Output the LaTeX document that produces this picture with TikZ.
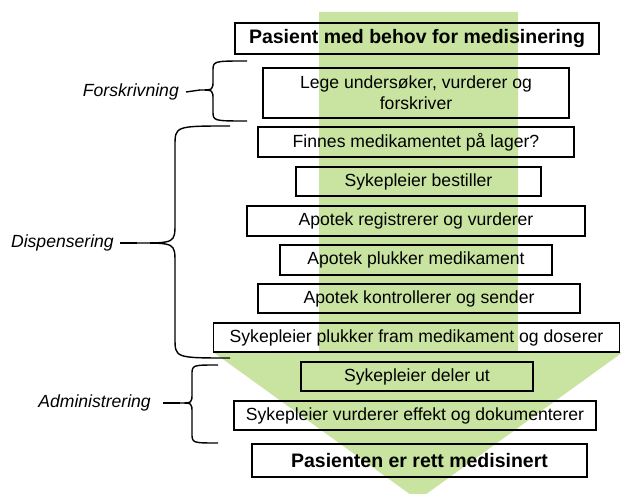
\documentclass[tikz,border=0pt]{standalone}
\usepackage{fontspec}
\setmainfont{Liberation Sans}
\definecolor{arrowgreen}{RGB}{200,228,160}
\begin{document}
\begin{tikzpicture}[x=1pt,y=-1pt,
  stepbox/.style={draw, line width=1.5pt, inner sep=0pt, align=center, font=\fontsize{17.6}{21}\selectfont},
  boldbox/.style={stepbox, font=\fontsize{19.5}{22}\selectfont\bfseries},
  lab/.style={inner sep=0pt, font=\fontsize{17.6}{20}\selectfont\itshape},
  bracel/.style={line width=1.4pt, line join=round}]
\useasboundingbox (0,0) rectangle (621,494);
\clip (0,0) rectangle (621,494);
\fill[arrowgreen] (319,12) -- (518,12) -- (518,352) -- (623,352) -- (418,500) -- (213,352) -- (319,352) -- cycle;

\node[boldbox, minimum width=364pt, minimum height=31pt] (b1) at (417,38.5) {Pasient med behov for medisinering};
\node[stepbox, minimum width=306pt, minimum height=50pt] (b2) at (416,93) {Lege undersøker, vurderer og\\forskriver};
\node[stepbox, minimum width=316pt, minimum height=30pt] (b3) at (416,142) {Finnes medikamentet på lager?};
\node[stepbox, minimum width=245pt, minimum height=29pt] (b4) at (418.5,181.5) {Sykepleier bestiller};
\node[stepbox, minimum width=338pt, minimum height=30pt] (b5) at (416,221) {Apotek registrerer og vurderer};
\node[stepbox, minimum width=272pt, minimum height=30pt] (b6) at (416,260) {Apotek plukker medikament};
\node[stepbox, minimum width=322pt, minimum height=29pt] (b7) at (419,298.5) {Apotek kontrollerer og sender};
\node[stepbox, minimum width=406pt, minimum height=29pt] (b8) at (416.5,337.5) {Sykepleier plukker fram medikament og doserer};
\node[stepbox, minimum width=232pt, minimum height=29pt] (b9) at (417,376.5) {Sykepleier deler ut};
\node[stepbox, minimum width=362pt, minimum height=29pt] (b10) at (415,415.5) {Sykepleier vurderer effekt og dokumenterer};
\node[boldbox, minimum width=335pt, minimum height=33pt] (b11) at (419.5,460.5) {Pasienten er rett medisinert};

\node[lab, anchor=east] (lf) at (179,92) {Forskrivning};
\node[lab, anchor=east] (ld) at (114,243) {Dispensering};
\node[lab, anchor=east] (la) at (151,403) {Administrering};

\coordinate (tf) at (200,90);
\coordinate (td) at (137,243);
\coordinate (ta) at (180,403);

\draw[bracel] (247,61) .. controls (213,61) .. (213,71) -- (213,80) .. controls (213,90) .. (tf) .. controls (213,90) .. (213,100) -- (213,111) .. controls (213,121) .. (247,121);
\draw[bracel] (230,126) .. controls (175,126) .. (175,146) -- (175,223) .. controls (175,243) .. (td) .. controls (175,243) .. (175,263) -- (175,338) .. controls (175,358) .. (230,358);
\draw[bracel] (218,365) .. controls (192,365) .. (192,375) -- (192,393) .. controls (192,403) .. (ta) .. controls (192,403) .. (192,413) -- (192,433) .. controls (192,443) .. (218,443);

\draw[bracel] ([xshift=7pt]lf.east) -- (tf);
\draw[bracel] ([xshift=6pt]ld.east) -- (td);
\draw[bracel] ([xshift=12pt]la.east) -- (ta);
\end{tikzpicture}
\end{document}
